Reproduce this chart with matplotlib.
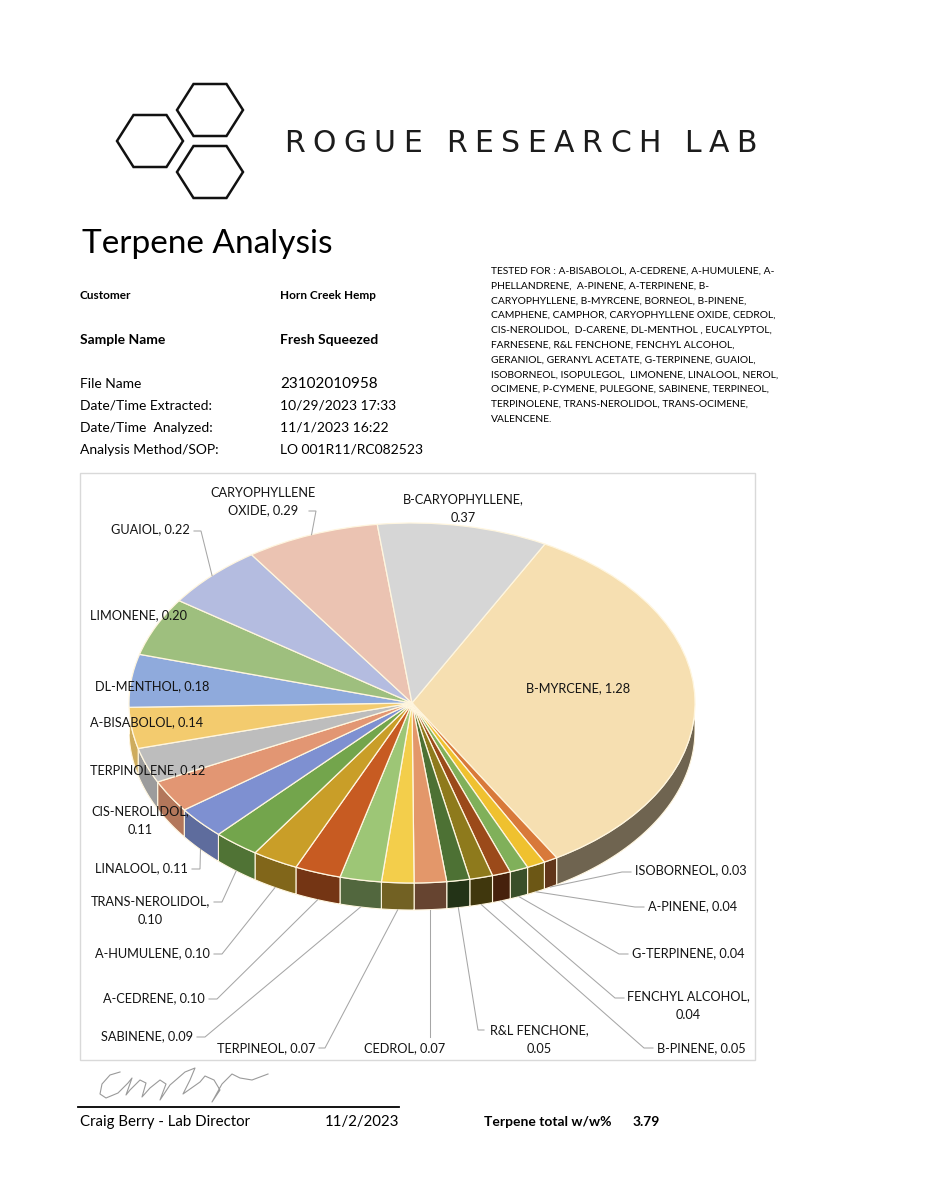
import numpy as np
import matplotlib
matplotlib.use("Agg")
import matplotlib.pyplot as plt
from matplotlib.patches import Polygon, Rectangle

plt.rcParams['font.family'] = ['Lato', 'DejaVu Sans']

# ---------------- data ----------------
terpenes = ['B-MYRCENE', 'ISOBORNEOL', 'A-PINENE', 'G-TERPINENE', 'FENCHYL ALCOHOL',
            'B-PINENE', 'R&L FENCHONE', 'CEDROL', 'TERPINEOL', 'SABINENE', 'A-CEDRENE',
            'A-HUMULENE', 'TRANS-NEROLIDOL', 'LINALOOL', 'CIS-NEROLIDOL', 'TERPINOLENE',
            'A-BISABOLOL', 'DL-MENTHOL', 'LIMONENE', 'GUAIOL', 'CARYOPHYLLENE OXIDE',
            'B-CARYOPHYLLENE']
values = [1.28, 0.03, 0.04, 0.04, 0.04, 0.05, 0.05, 0.07, 0.07, 0.09, 0.10,
          0.10, 0.10, 0.11, 0.11, 0.12, 0.14, 0.18, 0.20, 0.22, 0.29, 0.37]
colors = ['#F6DFB1', '#D8793A', '#EFC12F', '#80B05A', '#9B4A1A',
          '#8E7A1C', '#4D7134', '#E3976A', '#F3CE4B', '#9DC676', '#C75B22',
          '#C99E28', '#73A54C', '#7E90D1', '#E29673', '#BDBDBD',
          '#F3CB6E', '#8FAADC', '#9EBF7E', '#B4BCE0', '#EBC3B2', '#D6D6D6']
wrap_value = ['FENCHYL ALCOHOL', 'R&L FENCHONE', 'TRANS-NEROLIDOL', 'CIS-NEROLIDOL',
              'B-CARYOPHYLLENE']
wrap_name = ['CARYOPHYLLENE OXIDE']

info_labels = ['Customer', 'Sample Name', 'File Name', 'Date/Time Extracted:',
               'Date/Time  Analyzed:', 'Analysis Method/SOP:']
info_values = ['Horn Creek Hemp', 'Fresh Squeezed', '23102010958', '10/29/2023 17:33',
               '11/1/2023 16:22', 'LO 001R11/RC082523']
tested_for = [
    'TESTED FOR : A-BISABOLOL, A-CEDRENE, A-HUMULENE, A-',
    'PHELLANDRENE,  A-PINENE, A-TERPINENE, B-',
    'CARYOPHYLLENE, B-MYRCENE, BORNEOL, B-PINENE,',
    'CAMPHENE, CAMPHOR, CARYOPHYLLENE OXIDE, CEDROL,',
    'CIS-NEROLIDOL,  D-CARENE, DL-MENTHOL , EUCALYPTOL,',
    'FARNESENE, R&L FENCHONE, FENCHYL ALCOHOL,',
    'GERANIOL, GERANYL ACETATE, G-TERPINENE, GUAIOL,',
    'ISOBORNEOL, ISOPULEGOL,  LIMONENE, LINALOOL, NEROL,',
    'OCIMENE, P-CYMENE, PULEGONE, SABINENE, TERPINEOL,',
    'TERPINOLENE, TRANS-NEROLIDOL, TRANS-OCIMENE,',
    'VALENCENE.']
terpene_total = 3.79

# ---------------- layout ----------------
W, H = 928, 1200
fig = plt.figure(figsize=(W / 100, H / 100), dpi=100)
fig.patch.set_facecolor('white')

CX, CY, A, B, DEPTH = 412, 703, 283, 180, 27
D = DEPTH / B
pad = 6
pax = fig.add_axes([(CX - A) / W, 1 - (CY + B + DEPTH + pad) / H,
                    2 * A / W, (2 * B + DEPTH + pad) / H], zorder=1)
START = 62
pax.pie(values, colors=colors, startangle=START, counterclock=False, radius=1,
        wedgeprops=dict(edgecolor='#FFF6DF', linewidth=0.9))
pax.set_aspect('auto')
pax.set_xlim(-1, 1)
pax.set_ylim(-1 - (DEPTH + pad) / B, 1)
pax.axis('off')

vals = np.array(values)
cum = np.concatenate([[0], np.cumsum(vals)]) / vals.sum()
th1 = START - 360 * cum[:-1]
th2 = START - 360 * cum[1:]


def shade(c, f):
    r, g, b = matplotlib.colors.to_rgb(c)
    return (r * f, g * f, b * f)


for i in range(len(vals)):
    s = max(th2[i], -180.0)
    e = min(th1[i], 0.0)
    if s < e:
        t = np.radians(np.linspace(s, e, 80))
        top = np.column_stack([np.cos(t), np.sin(t)])
        bot = np.column_stack([np.cos(t), np.sin(t) - D])[::-1]
        mid = np.radians((s + e) / 2)
        f = 0.45 + 0.4 * max(0.0, -np.cos(mid))
        pax.add_patch(Polygon(np.vstack([top, bot]), closed=True,
                              facecolor=shade(colors[i], f), edgecolor='#FFF6DF',
                              linewidth=0.8, zorder=0.5))

ax = fig.add_axes([0, 0, 1, 1], zorder=3)
ax.patch.set_alpha(0)
ax.set_xlim(0, W)
ax.set_ylim(H, 0)
ax.axis('off')

PX = 100 / 72.0


def txt(x, yc, s, size, weight='normal', ha='left', color='black', **kw):
    # yc: vertical centre of capitals
    base = yc + 0.358 * size * PX
    ax.text(x, base, s, fontsize=size, fontweight=weight, ha=ha, va='baseline',
            color=color, **kw)


# ---------------- logo ----------------
hex_centres = [(150, 141), (210, 110), (210, 172)]
for hx, hy in hex_centres:
    pts = [(hx - 33, hy), (hx - 16.5, hy - 26), (hx + 16.5, hy - 26), (hx + 33, hy),
           (hx + 16.5, hy + 26), (hx - 16.5, hy + 26)]
    ax.add_patch(Polygon(pts, closed=True, fill=False, edgecolor='#111111',
                         linewidth=1.8, joinstyle='miter'))

# logo word mark, spread to the logo width
logo = 'ROGUE RESEARCH LAB'
renderer = fig.canvas.get_renderer()
lx0, lx1 = 284, 757
pieces = []
for ch in logo:
    t = ax.text(0, 152, ch if ch != ' ' else 'I', fontsize=21.5, family='DejaVu Sans',
                va='baseline', ha='left', color='#1c1c1c')
    bb = t.get_window_extent(renderer)
    w = bb.width if ch != ' ' else bb.width * 1.0
    if ch == ' ':
        t.set_text(' ')
    pieces.append((t, w))
total_w = sum(w for _, w in pieces)
track = (lx1 - lx0 - total_w) / (len(pieces) - 1)
xcur = lx0
for t, w in pieces:
    t.set_x(xcur)
    xcur += w + track

# ---------------- title & info ----------------
ax.text(82, 253, 'Terpene Analysis', fontsize=24, va='baseline', ha='left', color='black')

info_y = [295, 339, 383, 405, 427, 449]
info_lsize = [8.5, 10, 10, 10, 10, 10]
info_lweight = ['bold', 'bold', 'normal', 'normal', 'normal', 'normal']
info_vsize = [8.5, 10, 11, 10, 10, 10]
info_vweight = ['bold', 'bold', 'normal', 'normal', 'normal', 'normal']
for k in range(len(info_labels)):
    txt(80, info_y[k], info_labels[k], info_lsize[k], info_lweight[k])
    txt(280, info_y[k], info_values[k], info_vsize[k], info_vweight[k])

for k, line in enumerate(tested_for):
    txt(491, 270 + k * 14.8, line, 7.4, color='black')

# ---------------- chart frame ----------------
ax.add_patch(Rectangle((80, 473), 675, 587, fill=False, edgecolor='#D9D9D9',
                       linewidth=1.0))

# ---------------- pie labels ----------------
label_pos = {
    'B-MYRCENE': (578, 688, 'center', None),
    'ISOBORNEOL': (635, 870, 'left', (631, 872, -9)),
    'A-PINENE': (648, 906, 'left', (644, 907, -9)),
    'G-TERPINENE': (632, 953, 'left', (628, 954, -9)),
    'FENCHYL ALCOHOL': (688, 996, 'center', (624, 998, -9)),
    'B-PINENE': (657, 1048, 'left', (653, 1048, -9)),
    'R&L FENCHONE': (539, 1030, 'center', (484, 1030, -6)),
    'CEDROL': (364, 1048, 'left', ('anchor', 1037, 0)),
    'TERPINEOL': (315, 1048, 'right', (319, 1048, 6)),
    'SABINENE': (193, 1036, 'right', (197, 1037, 8)),
    'A-CEDRENE': (205, 998, 'right', (209, 999, 8)),
    'A-HUMULENE': (210, 953, 'right', (214, 954, 8)),
    'TRANS-NEROLIDOL': (150, 901, 'center', (214, 902, 8)),
    'LINALOOL': (188, 868, 'right', (192, 869, 8)),
    'CIS-NEROLIDOL': (140, 811, 'center', None),
    'TERPINOLENE': (90, 770, 'left', None),
    'A-BISABOLOL': (90, 722, 'left', None),
    'DL-MENTHOL': (95, 686, 'left', None),
    'LIMONENE': (90, 615, 'left', None),
    'GUAIOL': (190, 529, 'right', (194, 531, 7)),
    'CARYOPHYLLENE OXIDE': (263, 492, 'center', (309, 511, 7)),
    'B-CARYOPHYLLENE': (463, 499, 'center', None),
}

to_main = pax.transData + ax.transData.inverted()
LS = 9.2
for i, name in enumerate(terpenes):
    label = f'{name}, {values[i]:.2f}'
    if name in wrap_value:
        lines = [f'{name},', f'{values[i]:.2f}']
    elif name in wrap_name:
        first, rest = label.split(' ', 1)
        lines = [first, rest]
    else:
        lines = [label]
    x, y, ha, lead = label_pos[name]
    for j, ln in enumerate(lines):
        txt(x, y + 18 * j, ln, LS, ha=ha, color='#141414')
    if lead is not None:
        mid = np.radians((th1[i] + th2[i]) / 2)
        px, py = np.cos(mid), np.sin(mid)
        if py < 0:
            py -= D
        axp, ayp = to_main.transform((px, py))
        sx, sy, tick = lead
        if sx == 'anchor':
            sx = axp
        ax.plot([sx, sx + tick, axp], [sy, sy, ayp], color='#A6A6A6', lw=0.75,
                solid_joinstyle='miter')

# ---------------- signature & footer ----------------
sig_x = [120, 110, 102, 100, 106, 118, 128, 132, 126, 130, 140, 146, 142, 150, 160, 166,
         160, 170, 185, 195, 190, 183, 200, 205, 214, 220, 212, 222, 232, 240, 252, 268]
sig_y = [1072, 1075, 1084, 1094, 1098, 1093, 1083, 1078, 1095, 1090, 1080, 1083, 1097,
         1088, 1080, 1084, 1100, 1085, 1072, 1068, 1080, 1094, 1082, 1076, 1080, 1090,
         1102, 1084, 1074, 1078, 1080, 1074]
ax.plot(sig_x, sig_y, color='#9A9A9A', lw=0.8)

ax.plot([78, 399], [1107, 1107], color='black', lw=1.3)
txt(80, 1121, 'Craig Berry - Lab Director', 10.8)
txt(325, 1121, '11/2/2023', 10.8)
txt(484, 1121, 'Terpene total w/w%', 10, 'bold')
txt(633, 1121, f'{terpene_total:.2f}', 10, 'bold')

fig.savefig('out.png', dpi=100, facecolor='white')
